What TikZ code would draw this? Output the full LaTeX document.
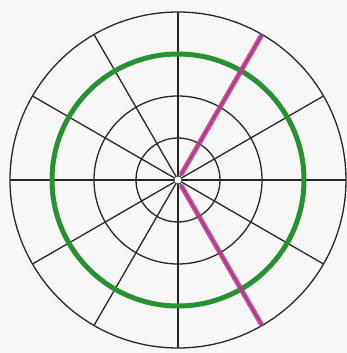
\documentclass[tikz,border=0pt]{standalone}
\usetikzlibrary{calc}
\begin{document}
\begin{tikzpicture}[x=1pt,y=1pt,
  gridline/.style={draw=black!85, line width=1.3pt},
  greenring/.style={draw={rgb,255:red,40;green,145;blue,50}, line width=5pt},
  magline/.style={draw={rgb,255:red,190;green,55;blue,140}, line width=5pt, opacity=0.85}]
\fill[black!3] (0,0) rectangle (347,353);
\useasboundingbox (0,0) rectangle (347,353);
\coordinate (O) at (178,173);
\foreach \r in {42,84,126,168} \draw[gridline] (O) circle[radius=\r];
\foreach \a in {0,30,...,330} \draw[gridline] (O) -- ++(\a:168);
\draw[greenring] (O) circle[radius=126];
\fill[white] (O) circle[radius=3.5];
\draw[magline] ($(O)+(60:6)$) -- ($(O)+(60:168)$);
\draw[magline] ($(O)+(300:6)$) -- ($(O)+(300:168)$);
\end{tikzpicture}
\end{document}
